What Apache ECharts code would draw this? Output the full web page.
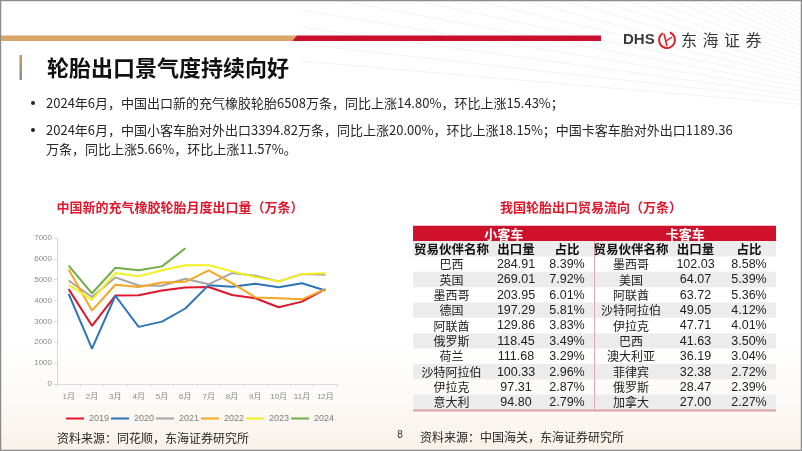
<!DOCTYPE html>
<html><head><meta charset="utf-8">
<script src="https://cdn.jsdelivr.net/npm/echarts@6/dist/echarts.min.js"></script>
<style>html,body{margin:0;padding:0;background:#fff}#c{width:802px;height:451px}</style>
</head><body><div id="c"></div>
<script>
// ---- data ----
const months = ['1月','2月','3月','4月','5月','6月','7月','8月','9月','10月','11月','12月'];
const years = ['2019','2020','2021','2022','2023','2024'];
const s2019 = [4550,2790,4240,4260,4480,4630,4650,4270,4110,3680,3950,4550];
const s2020 = [4320,1700,4230,2740,2990,3620,4740,4660,4810,4640,4830,4480];
const s2021 = [4960,4170,5110,4720,4710,5050,4780,5320,5190,4920,5270,5240];
const s2022 = [5490,3520,4760,4650,4870,4900,5450,4840,4150,4110,4060,4550];
const s2023 = [4760,4030,5320,5160,5450,5690,5690,5400,5130,4920,5270,5310];
const s2024 = [5680,4350,5570,5450,5640,6508];
const yTicks = [0,1000,2000,3000,4000,5000,6000,7000];

const carNames = ['巴西','英国','墨西哥','德国','阿联酋','俄罗斯','荷兰','沙特阿拉伯','伊拉克','意大利'];
const carVals = [284.91,269.01,203.95,197.29,129.86,118.45,111.68,100.33,97.31,94.80];
const carPct = [8.39,7.92,6.01,5.81,3.83,3.49,3.29,2.96,2.87,2.79];
const truckNames = ['墨西哥','美国','阿联酋','沙特阿拉伯','伊拉克','巴西','澳大利亚','菲律宾','俄罗斯','加拿大'];
const truckVals = [102.03,64.07,63.72,49.05,47.71,41.63,36.19,32.38,28.47,27.00];
const truckPct = [8.58,5.39,5.36,4.12,4.01,3.50,3.04,2.72,2.39,2.27];
const tableHead = ['贸易伙伴名称','出口量','占比'];
const groupHead = ['小客车','卡客车'];

const bullet1 = '2024年6月，中国出口新的充气橡胶轮胎6508万条，同比上涨14.80%，环比上涨15.43%；';
const bullet2a = '2024年6月，中国小客车胎对外出口3394.82万条，同比上涨20.00%，环比上涨18.15%；中国卡客车胎对外出口1189.36';
const bullet2b = '万条，同比上涨5.66%，环比上涨11.57%。';
const pageTitle = '轮胎出口景气度持续向好';
const chartTitle = '中国新的充气橡胶轮胎月度出口量（万条）';
const tableTitle = '我国轮胎出口贸易流向（万条）';
const src1 = '资料来源：同花顺，东海证券研究所';
const src2 = '资料来源：中国海关，东海证券研究所';

// ---- styles ----
const CJK = '"Noto Sans CJK SC", "Microsoft YaHei", sans-serif';
const MIX = '"Liberation Sans", "Noto Sans CJK SC", sans-serif';
const colors = ['#e0162b','#2e75b6','#a5a5a5','#f5a623','#f4f01c','#70ad47'];
const RED = '#e0162b';

const chart = echarts.init(document.getElementById('c'), null, {renderer:'canvas'});
const G = [];
function txt(x,y,t,font,fill,align,z){
  G.push({type:'text', x:x, y:y, z:z||10, style:{text:t, font:font, fill:fill, textAlign:align||'left', textVerticalAlign:'middle', verticalAlign:'middle'}});
}
function rect(x,y,w,h,fill,z){ G.push({type:'rect', z:z||5, shape:{x:x,y:y,width:w,height:h}, style:{fill:fill}}); }
function line(x1,y1,x2,y2,stroke,w,z){ G.push({type:'line', z:z||6, shape:{x1:x1,y1:y1,x2:x2,y2:y2}, style:{stroke:stroke,lineWidth:w}}); }

// background decorations
G.push({type:'rect', z:0, shape:{x:0,y:320,width:802,height:131}, style:{fill:new echarts.graphic.LinearGradient(0,0,0,1,[{offset:0,color:'rgba(255,255,255,0)'},{offset:1,color:'rgba(243,228,214,0.55)'}])}});
for (let i=0;i<24;i++){
  G.push({type:'line', z:1, shape:{x1:980,y1:120,x2:300,y2:-330+i*17}, style:{stroke:'#f0f0f0',lineWidth:0.8}});
}
// header bar
G.push({type:'polygon', z:5, shape:{points:[[0,35.5],[297,35.5],[292,41],[0,41]]}, style:{fill:'#d9a66a'}});
G.push({type:'polygon', z:5, shape:{points:[[297,35.5],[601,35.5],[601,41],[292,41]]}, style:{fill:'#c8102e'}});
// logo
txt(623,40,'DHS','bold 15px "Liberation Sans", sans-serif','#3a3a3a','left');
G.push({type:'arc', z:10, shape:{cx:667,cy:40,r:8,startAngle:-1.2,endAngle:4.2}, style:{stroke:'#d8232a',lineWidth:2,fill:null}});
G.push({type:'line', z:10, shape:{x1:664,y1:34,x2:667,y2:46}, style:{stroke:'#d8232a',lineWidth:1.5}});
G.push({type:'line', z:10, shape:{x1:666,y1:41,x2:672,y2:37}, style:{stroke:'#d8232a',lineWidth:1.5}});
['东','海','证','券'].forEach((c,i)=>txt(681+i*21.5,40,c,'16px '+CJK,'#3a3a3a','left'));
// title bar
G.push({type:'rect', z:5, shape:{x:19.5,y:55,width:2.5,height:25}, style:{fill:new echarts.graphic.LinearGradient(0,0,0,1,[{offset:0,color:'#c89a62'},{offset:1,color:'#8a8a8a'}])}});
txt(47,68,pageTitle,'bold 22px '+CJK,'#111','left');
// bullets
G.push({type:'circle', z:10, shape:{cx:33,cy:103,r:2}, style:{fill:'#222'}});
G.push({type:'circle', z:10, shape:{cx:33,cy:130,r:2}, style:{fill:'#222'}});
txt(46,103,bullet1,'13px '+CJK,'#262626','left');
txt(46,130,bullet2a,'13px '+CJK,'#262626','left');
txt(46,149,bullet2b,'13px '+CJK,'#262626','left');
// chart titles
txt(180,207,chartTitle,'bold 13px '+CJK,RED,'center');
txt(591,207,tableTitle,'bold 13px '+CJK,RED,'center');

// table
const tL=413, tR=776, tM=594.5, tTop=225.7, rh=15.36;
rect(tL,tTop,tR-tL,rh,'#d0112b');
txt((tL+tM)/2,tTop+rh/2+0.5,groupHead[0],'bold 13px '+CJK,'#fff','center',12);
txt((tM+tR)/2,tTop+rh/2+0.5,groupHead[1],'bold 13px '+CJK,'#fff','center',12);
const cxL=[451.5,516,567], cxR=[631,695.5,749];
for (let r=0;r<11;r++){
  const y0 = tTop+rh*(r+1);
  if (r%2===0) rect(tL,y0,tR-tL,rh,'#ececec',4);
}
const yH = tTop+rh*1.5+0.5;
tableHead.forEach((h,i)=>{ txt(cxL[i],yH,h,'bold 12.5px '+CJK,'#111','center',12); txt(cxR[i],yH,h,'bold 12.5px '+CJK,'#111','center',12); });
for (let i=0;i<carNames.length;i++){
  const y = tTop+rh*(i+2.5)+0.5;
  txt(cxL[0],y,carNames[i],'12px '+CJK,'#222','center',12);
  txt(cxL[1],y,carVals[i].toFixed(2),'12.5px '+MIX,'#222','center',12);
  txt(cxL[2],y,carPct[i].toFixed(2)+'%','12.5px '+MIX,'#222','center',12);
  txt(cxR[0],y,truckNames[i],'12px '+CJK,'#222','center',12);
  txt(cxR[1],y,truckVals[i].toFixed(2),'12.5px '+MIX,'#222','center',12);
  txt(cxR[2],y,truckPct[i].toFixed(2)+'%','12.5px '+MIX,'#222','center',12);
}
line(tM,tTop+rh,tM,tTop+rh*12,'#e3aab3',1,8);
line(tL,tTop+rh*12+0.5,tR,tTop+rh*12+0.5,'#dba0ab',2,8);

// sources
txt(57,438,src1,'12px '+CJK,'#262626','left');
txt(420,437,src2,'12px '+CJK,'#262626','left');
txt(400,435,'8','10px "Liberation Sans", sans-serif','#333','center');
// frame
G.push({type:'rect', z:50, shape:{x:0.5,y:0.5,width:801,height:450}, style:{fill:null,stroke:'#8c8c8c',lineWidth:1.5}});

const seriesData = [s2019,s2020,s2021,s2022,s2023,s2024];
const option = {
  backgroundColor:'#fff',
  animation:false,
  grid:{left:57,right:465,top:238,bottom:67,containLabel:false},
  legend:{left:61,top:409,itemWidth:18,itemHeight:2,itemGap:2,icon:'rect',
    data:years, textStyle:{fontSize:9,color:'#7f7f7f',fontFamily:'"Liberation Sans", sans-serif'}},
  xAxis:{type:'category',data:months,boundaryGap:true,
    axisLine:{show:true,lineStyle:{color:'#d9d9d9',width:1}},
    axisTick:{show:true,length:3,lineStyle:{color:'#d9d9d9'}},
    axisLabel:{fontSize:8,color:'#8a8a8a',margin:9,interval:0,fontFamily:MIX},
    splitLine:{show:false}},
  yAxis:{type:'value',min:0,max:7000,interval:1000,
    axisLine:{show:true,lineStyle:{color:'#d9d9d9',width:1}},
    axisTick:{show:true,length:3,lineStyle:{color:'#d9d9d9'}},
    axisLabel:{fontSize:8,color:'#8a8a8a',margin:5,fontFamily:'"Liberation Sans", sans-serif',
      formatter:v=>yTicks.indexOf(v)>=0?String(v):''},
    splitLine:{show:false}},
  series: years.map((y,i)=>({name:y,type:'line',data:seriesData[i],showSymbol:false,symbol:'none',
    smooth:false,lineStyle:{width:2,color:colors[i]},itemStyle:{color:colors[i]},z:2+i})),
  graphic:{elements:G}
};
chart.setOption(option);
</script></body></html>
